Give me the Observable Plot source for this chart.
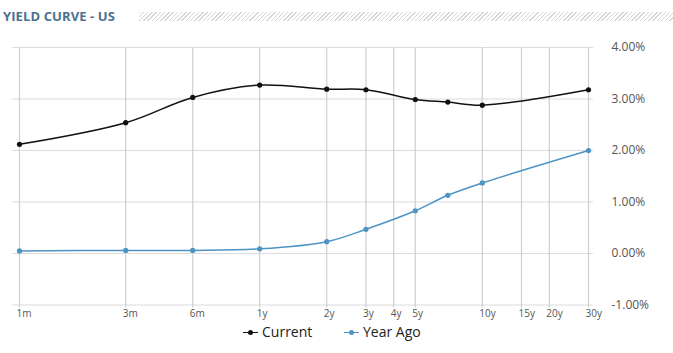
<!DOCTYPE html>
<html>
<head>
<meta charset="utf-8">
<script src="https://cdn.jsdelivr.net/npm/d3@7"></script>
<script src="https://cdn.jsdelivr.net/npm/@observablehq/plot@0.6"></script>
<style>
  html, body { margin: 0; padding: 0; background: #fff; width: 673px; height: 353px; overflow: hidden; font-family: "Open Sans", sans-serif; }
  #title { position: absolute; left: 3px; top: 7px; font-size: 13px; font-weight: bold; color: #4a7190; letter-spacing: 0.1px; }
  #hatch { position: absolute; left: 139px; top: 12px; width: 534px; height: 9px;
    background: repeating-linear-gradient(135deg, #d6d6d6 0px, #d6d6d6 1px, #ffffff 1px, #ffffff 3px); }
  #chart { position: absolute; left: 0; top: 30px; }
  .leg { position: absolute; top: 322px; font-size: 14px; color: #222; line-height: 20px; white-space: nowrap; }
  .leg .ln { position: absolute; top: 9.5px; height: 1.5px; width: 15px; }
  .leg .dt { position: absolute; top: 7.5px; left: 5px; width: 5px; height: 5px; border-radius: 50%; }
  .leg .tx { position: absolute; left: 19px; top: 0; }
</style>
</head>
<body>
<div id="title">YIELD CURVE - US</div>
<div id="hatch"></div>
<div id="chart"></div>
<div class="leg" style="left:243px"><span class="ln" style="background:#111"></span><span class="dt" style="background:#111"></span><span class="tx">Current</span></div>
<div class="leg" style="left:344px"><span class="ln" style="background:#4d94c4"></span><span class="dt" style="background:#4d94c4"></span><span class="tx">Year Ago</span></div>
<script>
// Maturities (in months) with yields in percent
const maturities = ["1m","3m","6m","1y","2y","3y","5y","7y","10y","30y"];
const maturityMonths = [1, 3, 6, 12, 24, 36, 60, 84, 120, 360];
const currentYield = [2.12, 2.54, 3.03, 3.27, 3.19, 3.18, 2.99, 2.94, 2.88, 3.18];
const yearAgoYield = [0.05, 0.06, 0.06, 0.09, 0.23, 0.47, 0.83, 1.13, 1.37, 2.00];

// Axis ticks
const xTickLabels = ["1m","3m","6m","1y","2y","3y","4y","5y","10y","15y","20y","30y"];
const xTickMonths = [1, 3, 6, 12, 24, 36, 48, 60, 120, 180, 240, 360];
const yTicks = [-1, 0, 1, 2, 3, 4];

const seriesNames = ["Current", "Year Ago"];
const seriesColors = ["#111111", "#4d94c4"];

const rows = [];
maturityMonths.forEach((m, i) => {
  rows.push({series: seriesNames[0], months: m, value: currentYield[i]});
  rows.push({series: seriesNames[1], months: m, value: yearAgoYield[i]});
});
const xTicks = xTickMonths.map((m, i) => ({months: m, label: xTickLabels[i]}));

const chart = Plot.plot({
  width: 673,
  height: 300,
  marginLeft: 19,
  marginRight: 85,
  marginTop: 17,
  marginBottom: 25.5,
  style: {fontFamily: "Open Sans, sans-serif", background: "transparent"},
  x: {type: "log", domain: [1, 360], axis: null},
  y: {domain: [-1, 4], axis: null},
  color: {domain: seriesNames, range: seriesColors},
  marks: [
    Plot.ruleY(yTicks, {stroke: "#dcdcdc", strokeWidth: 1.2, insetLeft: -7, insetRight: -5}),
    Plot.ruleX(xTicks, {x: "months", stroke: "#cfcfcf", strokeWidth: 1.2, insetBottom: -3}),
    Plot.text(xTicks, {x: "months", text: "label", frameAnchor: "bottom", textAnchor: "start",
      dx: -3, dy: 12, fontSize: 10, fill: "#555"}),
    Plot.axisY({anchor: "right", ticks: yTicks, tickFormat: d => d.toFixed(2) + "%", tickSize: 0,
      tickPadding: 23, fontSize: 12, fill: "#555", label: null}),
    Plot.line(rows, {x: "months", y: "value", z: "series", stroke: "series", strokeWidth: 1.5, curve: "catmull-rom"}),
    Plot.dot(rows, {x: "months", y: "value", fill: "series", r: 2.6})
  ]
});
document.getElementById("chart").appendChild(chart);
</script>
</body>
</html>
